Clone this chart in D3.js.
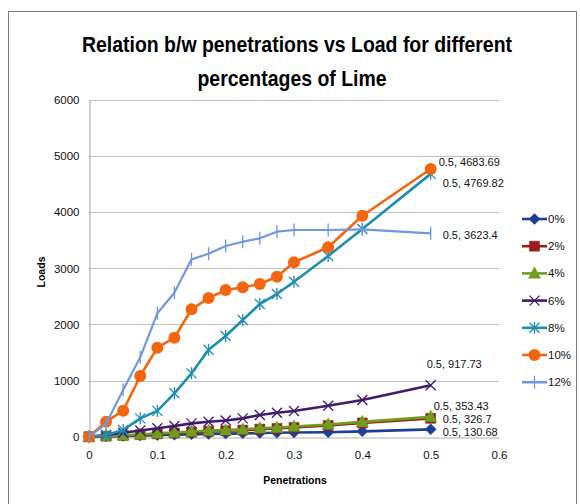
<!DOCTYPE html>
<html>
<head>
<meta charset="utf-8">
<script src="https://cdn.jsdelivr.net/npm/d3@7"></script>
<style>
  body { margin: 0; background: #fff; }
  svg text { font-family: "Liberation Sans", Arial, sans-serif; }
</style>
</head>
<body>
<svg id="chart" width="580" height="504"></svg>
<script>
// penetration values (x)
const penetrations = [0, 0.025, 0.05, 0.075, 0.1, 0.125, 0.15, 0.175, 0.2, 0.225, 0.25, 0.275, 0.3, 0.35, 0.4, 0.5];

// loads for each lime percentage
const lime0 = [0, 5, 12, 20, 28, 35, 42, 50, 55, 60, 65, 70, 75, 80, 95, 130.68];
const lime2 = [0, 10, 22, 35, 50, 65, 80, 95, 105, 118, 135, 148, 165, 200, 245, 326.7];
const lime4 = [0, 12, 25, 40, 60, 75, 92, 108, 118, 130, 150, 162, 182, 218, 265, 353.43];
const lime6 = [0, 30, 70, 110, 150, 191, 238, 267, 290, 327, 387, 428, 458, 553, 654, 917.73];
const lime8 = [0, 30, 120, 327, 460, 773, 1129, 1550, 1794, 2079, 2364, 2543, 2762, 3220, 3701, 4683.69];
const lime10 = [0, 267, 463, 1081, 1586, 1764, 2270, 2470, 2614, 2662, 2721, 2851, 3107, 3375, 3938, 4769.82];
const lime12 = [0, 230, 832, 1415, 2199, 2566, 3160, 3260, 3398, 3475, 3535, 3653, 3683, 3683, 3695, 3623.4];

const seriesNames = ["0%", "2%", "4%", "6%", "8%", "10%", "12%"];
const seriesValues = [lime0, lime2, lime4, lime6, lime8, lime10, lime12];

const xTicks = [0, 0.1, 0.2, 0.3, 0.4, 0.5, 0.6];
const yTicks = [0, 1000, 2000, 3000, 4000, 5000, 6000];

// data labels shown at the last point of the series
const labelTexts = ["0.5, 130.68", "0.5, 326.7", "0.5, 353.43", "0.5, 917.73", "0.5, 4769.82", "0.5, 4683.69", "0.5, 3623.4"];

const colors = ["#1c3f94", "#9b1c1c", "#6f9e1f", "#41196e", "#1f8fae", "#f4650f", "#7098de"];
const shapes = ["diamond", "square", "triangle", "x", "star", "circle", "plus"];
const labelOffset = [[12, 3], [12, 1], [3, -11], [-4, -21], [12, 9], [8, -7], [12, 2]];

const svg = d3.select("svg#chart");

// outer frame
svg.append("rect")
  .attr("x", 8.5).attr("y", 11.5)
  .attr("width", 568).attr("height", 510)
  .attr("fill", "none").attr("stroke", "#7f7f7f");

// title
svg.append("text")
  .attr("x", 297).attr("y", 52)
  .attr("text-anchor", "middle")
  .attr("font-size", 22).attr("font-weight", "bold")
  .attr("textLength", 430).attr("lengthAdjust", "spacingAndGlyphs")
  .text("Relation b/w penetrations vs Load for different");
svg.append("text")
  .attr("x", 292).attr("y", 86)
  .attr("text-anchor", "middle")
  .attr("font-size", 22).attr("font-weight", "bold")
  .attr("textLength", 189).attr("lengthAdjust", "spacingAndGlyphs")
  .text("percentages of Lime");

//scales
const xScale = d3.scaleLinear().domain([0, 0.6]).range([89, 499]);
const yScale = d3.scaleLinear().domain([0, 6000]).range([436.7, 100]);

// gridlines
svg.append("g")
  .selectAll("line")
  .data(yTicks.filter(d => d > 0))
  .join("line")
  .attr("x1", xScale(0)).attr("x2", xScale(0.6))
  .attr("y1", d => Math.round(yScale(d)) + 0.5)
  .attr("y2", d => Math.round(yScale(d)) + 0.5)
  .attr("stroke", "#c0c0c0").attr("stroke-width", 1.2);

// axes
const xAxis = svg.append("g")
  .attr("transform", `translate(0, ${Math.round(yScale(0)) + 0.5})`)
  .call(d3.axisBottom(xScale).tickValues(xTicks).tickSize(0).tickPadding(13).tickFormat(d3.format("")));
const yAxis = svg.append("g")
  .attr("transform", `translate(${Math.round(xScale(0)) + 0.5}, 0)`)
  .call(d3.axisLeft(yScale).tickValues(yTicks).tickSize(0).tickPadding(10).tickFormat(d3.format("")));
[xAxis, yAxis].forEach(g => {
  g.select(".domain").attr("stroke", "#b0b0b0").attr("stroke-width", 1.2);
  g.selectAll("text").attr("font-size", 11.5).attr("fill", "#111")
    .attr("font-family", "Liberation Sans, Arial, sans-serif");
});

svg.append("text")
  .attr("transform", "translate(45, 272) rotate(-90)")
  .attr("text-anchor", "middle")
  .attr("font-size", 10.5).attr("font-weight", "bold")
  .text("Loads");
svg.append("text")
  .attr("x", 295).attr("y", 484)
  .attr("text-anchor", "middle")
  .attr("font-size", 10.5).attr("font-weight", "bold")
  .text("Penetrations");

//line generator
const lineGenerator = d3.line()
  .x((d, i) => xScale(penetrations[i]))
  .y(d => yScale(d));

const symbolPath = (shape, s) => {
  if (shape === "diamond") return `M0,${-s}L${s},0L0,${s}L${-s},0Z`;
  if (shape === "square") return `M${-s},${-s}H${s}V${s}H${-s}Z`;
  if (shape === "triangle") return `M0,${-s * 1.1}L${s},${s * 0.8}L${-s},${s * 0.8}Z`;
  if (shape === "x") return `M${-s},${-s}L${s},${s}M${-s},${s}L${s},${-s}`;
  if (shape === "star") return `M${-s},${-s}L${s},${s}M${-s},${s}L${s},${-s}M0,${-s * 1.2}V${s * 1.2}`;
  if (shape === "plus") return `M0,${-s * 1.3}V${s * 1.3}`;
  return "";
};
const markerSize = { diamond: 5.5, square: 5, triangle: 6, x: 5, star: 5, plus: 5, circle: 6 };

const drawMarker = (g, shape, color, x, y) => {
  if (shape === "circle") {
    g.append("circle").attr("cx", x).attr("cy", y).attr("r", markerSize.circle).attr("fill", color);
  } else {
    const filled = ["diamond", "square", "triangle"].includes(shape);
    g.append("path")
      .attr("transform", `translate(${x},${y})`)
      .attr("d", symbolPath(shape, markerSize[shape]))
      .attr("fill", filled ? color : "none")
      .attr("stroke", color)
      .attr("stroke-width", filled ? 0.5 : 1.3);
  }
};

seriesValues.forEach((vals, i) => {
  const g = svg.append("g");
  g.append("path")
    .attr("d", lineGenerator(vals))
    .attr("fill", "none")
    .attr("stroke", colors[i])
    .attr("stroke-width", i === 6 ? 2.2 : 2.6)
    .attr("stroke-linejoin", "round");
  vals.forEach((v, j) => drawMarker(g, shapes[i], colors[i], xScale(penetrations[j]), yScale(v)));
});

// data labels
seriesValues.forEach((vals, i) => {
  const last = vals.length - 1;
  svg.append("text")
    .attr("x", xScale(penetrations[last]) + labelOffset[i][0])
    .attr("y", yScale(vals[last]) + labelOffset[i][1])
    .attr("dy", "0.35em")
    .attr("font-size", 11).attr("fill", "#111")
    .text(labelTexts[i]);
});

// legend
const legend = svg.append("g");
seriesNames.forEach((name, i) => {
  const y = 219 + i * 27.2;
  const lg = legend.append("g");
  lg.append("line").attr("x1", 522).attr("x2", 547).attr("y1", y).attr("y2", y)
    .attr("stroke", colors[i]).attr("stroke-width", 2.6);
  drawMarker(lg, shapes[i], colors[i], 534.5, y);
  lg.append("text").attr("x", 548).attr("y", y).attr("dy", "0.35em")
    .attr("font-size", 11.5).attr("fill", "#111").text(name);
});
</script>
</body>
</html>
